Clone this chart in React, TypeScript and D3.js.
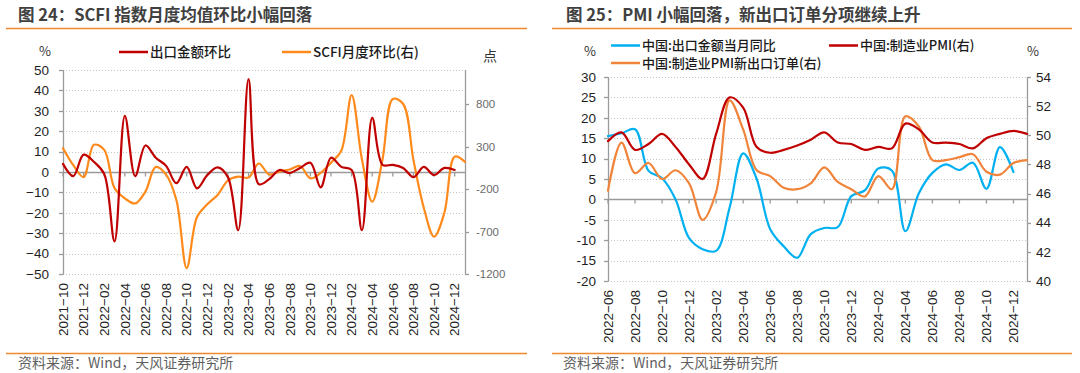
import * as d3 from 'd3';
import React, { useEffect, useRef } from 'react';

// ---------- 图24：SCFI 指数月度均值环比 ----------
const scfiMonths = [
  '2021-10', '2021-11', '2021-12',
  '2022-01', '2022-02', '2022-03', '2022-04', '2022-05', '2022-06',
  '2022-07', '2022-08', '2022-09', '2022-10', '2022-11', '2022-12',
  '2023-01', '2023-02', '2023-03', '2023-04', '2023-05', '2023-06',
  '2023-07', '2023-08', '2023-09', '2023-10', '2023-11', '2023-12',
  '2024-01', '2024-02', '2024-03', '2024-04', '2024-05', '2024-06',
  '2024-07', '2024-08', '2024-09', '2024-10', '2024-11', '2024-12',
  '2025-01',
];
const scfiTickMonths = [
  '2021-10', '2021-12', '2022-02', '2022-04', '2022-06', '2022-08', '2022-10',
  '2022-12', '2023-02', '2023-04', '2023-06', '2023-08', '2023-10', '2023-12',
  '2024-02', '2024-04', '2024-06', '2024-08', '2024-10', '2024-12',
];
// 出口金额环比 (%), left axis
const exportMoM = [
  4, -2, 8.5, 5, -1, -34, 27.5, -2, 13, 7, 3, -5.5, 2.5, -8, -1.5, 2.3, -2.5,
  -28.5, 45.5, -6, -3.5, 1, -0.5, 2, 4.5, -7.5, 7, 2.5, 1, -28.5, 26.5, 3.5,
  3.5, 2, -2.5, 2.5, -1.5, 2, 1,
];
// SCFI 月度环比 (点), right axis
const scfiMoM = [
  280, 80, -60, 320, 260, -190, -310, -370, -230, 60, -30, -330, -1130, -530,
  -380, -270, -100, -55, -65, 100, -30, 5, 30, 70, -75, -10, 110, 250, 905,
  150, -350, 150, 860, 800, 140, -420, -760, -480, 180, 120,
];
const scfiLeftTicks = [50, 40, 30, 20, 10, 0, -10, -20, -30, -40, -50];
const scfiRightTicks = [800, 300, -200, -700, -1200];

// ---------- 图25：PMI 与出口 ----------
const pmiMonths = [
  '2022-06', '2022-07', '2022-08', '2022-09', '2022-10', '2022-11', '2022-12',
  '2023-01', '2023-02', '2023-03', '2023-04', '2023-05', '2023-06',
  '2023-07', '2023-08', '2023-09', '2023-10', '2023-11', '2023-12',
  '2024-01', '2024-02', '2024-03', '2024-04', '2024-05', '2024-06',
  '2024-07', '2024-08', '2024-09', '2024-10', '2024-11', '2024-12',
  '2025-01',
];
const pmiTickMonths = [
  '2022-06', '2022-08', '2022-10', '2022-12', '2023-02', '2023-04', '2023-06',
  '2023-08', '2023-10', '2023-12', '2024-02', '2024-04', '2024-06', '2024-08',
  '2024-10', '2024-12',
];
// 中国:出口金额当月同比 (%), left axis
const exportYoY = [
  15.5, 16.2, 17.2, 7, 5.2, 0, -9.5, -12.2, -12.6, -2, 11.3, 5, -7.3, -11.5,
  -14.3, -8.5, -7, -6.8, 0.8, 2.2, 7.6, 7.1, -7.8, 1.5, 6.5, 8.6, 7.2, 9, 2.6,
  12.8, 6.7,
];
// 中国:制造业PMI (右)
const pmi = [
  49.6, 50.2, 49.0, 49.4, 50.1, 49.2, 48.0, 47.0, 50.1, 52.6, 51.9, 49.2, 48.8,
  49.0, 49.3, 49.7, 50.2, 49.5, 49.4, 49.0, 49.2, 49.1, 50.8, 50.4, 49.5, 49.5,
  49.4, 49.1, 49.8, 50.1, 50.3, 50.1,
];
// 中国:制造业PMI新出口订单 (右)
const pmiNewExport = [
  46.2, 49.5, 47.4, 48.1, 47.0, 47.6, 46.7, 44.2, 46.1, 52.4, 50.4, 47.6, 47.2,
  46.4, 46.3, 46.7, 47.8, 46.8, 46.3, 45.8, 47.2, 46.3, 51.3, 50.6, 48.3, 48.3,
  48.5, 48.7, 47.5, 47.3, 48.1, 48.3,
];
const pmiLeftTicks = [30, 25, 20, 15, 10, 5, 0, -5, -10, -15, -20];
const pmiRightTicks = [54, 52, 50, 48, 46, 44, 42, 40];

const FONT_CN = '"Noto Sans CJK SC", "Noto Sans", sans-serif';
const FONT_NUM = '"Liberation Sans", Arial, sans-serif';
const RULE_COLOR = '#F0892B';

interface LineSeries {
  values: number[];
  color: string;
  axis: 'left' | 'right';
}

interface LegendItem {
  name: string;
  color: string;
  x: number;
  y: number;
}

interface PanelConfig {
  title: string;
  titleX: number;
  ruleX: [number, number];
  sourceX: number;
  plot: { left: number; right: number; top: number; bottom: number };
  months: string[];
  tickMonths: string[];
  labelTop: number;
  leftDomain: [number, number];
  rightDomain: [number, number];
  leftTicks: number[];
  rightTicks: number[];
  leftFormat: (v: number) => string;
  leftLabelX: number;
  rightLabelX: number;
  leftLabelStyle: { size: number; color: string };
  rightLabelStyle: { size: number; color: string };
  series: LineSeries[];
  legend: LegendItem[];
  legendSize: number;
  units: { text: string; x: number; y: number; size: number }[];
}

type Svg = d3.Selection<SVGSVGElement, unknown, null, undefined>;

function drawPanel(svg: Svg, cfg: PanelConfig) {
  const g = svg.append('g');
  const { plot } = cfg;

  const x = d3.scalePoint<string>().domain(cfg.months).range([plot.left, plot.right]);
  const yL = d3.scaleLinear().domain(cfg.leftDomain).range([plot.bottom, plot.top]);
  const yR = d3.scaleLinear().domain(cfg.rightDomain).range([plot.bottom, plot.top]);

  // title + rules + source
  g.append('text')
    .attr('x', cfg.titleX)
    .attr('y', 21)
    .style('font-family', FONT_CN)
    .style('font-size', '16.5px')
    .style('font-weight', 700)
    .style('fill', '#404040')
    .text(cfg.title);

  [28.5, 353.5].forEach(yy => {
    g.append('line')
      .attr('x1', cfg.ruleX[0])
      .attr('x2', cfg.ruleX[1])
      .attr('y1', yy)
      .attr('y2', yy)
      .attr('stroke', RULE_COLOR)
      .attr('stroke-width', 1.5);
  });

  g.append('text')
    .attr('x', cfg.sourceX)
    .attr('y', 368)
    .style('font-family', FONT_CN)
    .style('font-size', '14px')
    .style('fill', '#5f5f5f')
    .text('资料来源：Wind，天风证券研究所');

  // dotted grid
  g.append('g')
    .selectAll('line')
    .data(cfg.leftTicks)
    .join('line')
    .attr('x1', plot.left)
    .attr('x2', plot.right)
    .attr('y1', d => Math.round(yL(d)) + 0.5)
    .attr('y2', d => Math.round(yL(d)) + 0.5)
    .attr('stroke', '#c4c4c4')
    .attr('stroke-width', 1)
    .attr('stroke-dasharray', '1,2');

  const axisColor = '#9a9a9a';

  // left axis
  g.append('line')
    .attr('x1', plot.left + 0.5).attr('x2', plot.left + 0.5)
    .attr('y1', plot.top).attr('y2', plot.bottom + 0.5)
    .attr('stroke', axisColor).attr('stroke-width', 1.3);
  g.append('g')
    .selectAll('line')
    .data(cfg.leftTicks)
    .join('line')
    .attr('x1', plot.left - 4).attr('x2', plot.left)
    .attr('y1', d => Math.round(yL(d)) + 0.5)
    .attr('y2', d => Math.round(yL(d)) + 0.5)
    .attr('stroke', axisColor).attr('stroke-width', 1.3);
  g.append('g')
    .selectAll('text')
    .data(cfg.leftTicks)
    .join('text')
    .attr('x', cfg.leftLabelX)
    .attr('y', d => yL(d))
    .attr('dy', '0.35em')
    .attr('text-anchor', 'end')
    .style('font-family', FONT_NUM)
    .style('font-size', `${cfg.leftLabelStyle.size}px`)
    .style('fill', cfg.leftLabelStyle.color)
    .text(d => cfg.leftFormat(d));

  // right axis
  g.append('line')
    .attr('x1', plot.right + 0.5).attr('x2', plot.right + 0.5)
    .attr('y1', plot.top).attr('y2', plot.bottom + 0.5)
    .attr('stroke', axisColor).attr('stroke-width', 1.3);
  g.append('g')
    .selectAll('line')
    .data(cfg.rightTicks)
    .join('line')
    .attr('x1', plot.right).attr('x2', plot.right + 4)
    .attr('y1', d => Math.round(yR(d)) + 0.5)
    .attr('y2', d => Math.round(yR(d)) + 0.5)
    .attr('stroke', axisColor).attr('stroke-width', 1.3);
  g.append('g')
    .selectAll('text')
    .data(cfg.rightTicks)
    .join('text')
    .attr('x', cfg.rightLabelX)
    .attr('y', d => yR(d))
    .attr('dy', '0.35em')
    .style('font-family', FONT_NUM)
    .style('font-size', `${cfg.rightLabelStyle.size}px`)
    .style('fill', cfg.rightLabelStyle.color)
    .text(d => String(d));

  // category axis along zero
  const y0 = Math.round(yL(0)) + 0.5;
  g.append('line')
    .attr('x1', plot.left).attr('x2', plot.right)
    .attr('y1', y0).attr('y2', y0)
    .attr('stroke', axisColor).attr('stroke-width', 1.4);
  g.append('g')
    .selectAll('line')
    .data(cfg.tickMonths)
    .join('line')
    .attr('x1', d => x(d)!).attr('x2', d => x(d)!)
    .attr('y1', y0).attr('y2', y0 + 4)
    .attr('stroke', axisColor).attr('stroke-width', 1.3);

  g.append('g')
    .selectAll('text')
    .data(cfg.tickMonths)
    .join('text')
    .attr('transform', d => `translate(${x(d)},${cfg.labelTop}) rotate(-90)`)
    .attr('dy', '0.35em')
    .attr('text-anchor', 'end')
    .style('font-family', FONT_NUM)
    .style('font-size', '13.5px')
    .style('fill', '#1f1f1f')
    .text(d => d.replace('-', '\u2212'));

  // series
  cfg.series.forEach(s => {
    const y = s.axis === 'left' ? yL : yR;
    const line = d3.line<number>()
      .x((_, i) => x(cfg.months[i])!)
      .y(d => y(d))
      .curve(d3.curveCatmullRom.alpha(0.5));
    g.append('path')
      .attr('d', line(s.values))
      .attr('fill', 'none')
      .attr('stroke', s.color)
      .attr('stroke-width', 2.2)
      .attr('stroke-linejoin', 'round')
      .attr('stroke-linecap', 'round');
  });

  // legend
  cfg.legend.forEach(item => {
    g.append('line')
      .attr('x1', item.x).attr('x2', item.x + 29)
      .attr('y1', item.y).attr('y2', item.y)
      .attr('stroke', item.color)
      .attr('stroke-width', 2.5);
    g.append('text')
      .attr('x', item.x + 31)
      .attr('y', item.y)
      .attr('dy', '0.36em')
      .style('font-family', FONT_CN)
      .style('font-size', `${cfg.legendSize}px`)
      .style('font-weight', 500)
      .style('fill', '#1a1a1a')
      .text(item.name);
  });

  cfg.units.forEach(u => {
    g.append('text')
      .attr('x', u.x)
      .attr('y', u.y)
      .attr('dy', '0.35em')
      .attr('text-anchor', 'middle')
      .style('font-family', FONT_CN)
      .style('font-size', `${u.size}px`)
      .style('fill', '#333')
      .text(u.text);
  });
}

const App: React.FC = () => {
  const svgRef = useRef<SVGSVGElement>(null);

  useEffect(() => {
    if (!svgRef.current) return;
    const svg = d3.select(svgRef.current);
    svg.selectAll('*').remove();

    drawPanel(svg, {
      title: '图 24：SCFI 指数月度均值环比小幅回落',
      titleX: 18,
      ruleX: [6, 527],
      sourceX: 18,
      plot: { left: 63, right: 465, top: 70, bottom: 274 },
      months: scfiMonths,
      tickMonths: scfiTickMonths,
      labelTop: 283,
      leftDomain: [-50, 50],
      rightDomain: [-1200, 1200],
      leftTicks: scfiLeftTicks,
      rightTicks: scfiRightTicks,
      leftFormat: d3.format('d'),
      leftLabelX: 49,
      rightLabelX: 476,
      leftLabelStyle: { size: 13.5, color: '#1f1f1f' },
      rightLabelStyle: { size: 11.5, color: '#6b6b6b' },
      series: [
        { values: scfiMoM, color: '#FF8A1C', axis: 'right' },
        { values: exportMoM, color: '#C00000', axis: 'left' },
      ],
      legend: [
        { name: '出口金额环比', color: '#C00000', x: 119, y: 52 },
        { name: 'SCFI月度环比(右)', color: '#FF8A1C', x: 282, y: 52 },
      ],
      legendSize: 13.5,
      units: [
        { text: '%', x: 45, y: 51, size: 13 },
        { text: '点', x: 490, y: 56, size: 14 },
      ],
    });

    drawPanel(svg, {
      title: '图 25：PMI 小幅回落，新出口订单分项继续上升',
      titleX: 566,
      ruleX: [552, 1072],
      sourceX: 563,
      plot: { left: 608, right: 1027, top: 77, bottom: 281 },
      months: pmiMonths,
      tickMonths: pmiTickMonths,
      labelTop: 290,
      leftDomain: [-20, 30],
      rightDomain: [40, 54],
      leftTicks: pmiLeftTicks,
      rightTicks: pmiRightTicks,
      leftFormat: d => String(d),
      leftLabelX: 596,
      rightLabelX: 1036,
      leftLabelStyle: { size: 13.5, color: '#1f1f1f' },
      rightLabelStyle: { size: 13.5, color: '#1f1f1f' },
      series: [
        { values: exportYoY, color: '#00B0F0', axis: 'left' },
        { values: pmiNewExport, color: '#F0843A', axis: 'right' },
        { values: pmi, color: '#C00000', axis: 'right' },
      ],
      legend: [
        { name: '中国:出口金额当月同比', color: '#00B0F0', x: 611, y: 45.5 },
        { name: '中国:制造业PMI(右)', color: '#C00000', x: 829, y: 45.5 },
        { name: '中国:制造业PMI新出口订单(右)', color: '#F0843A', x: 611, y: 63 },
      ],
      legendSize: 13,
      units: [
        { text: '%', x: 590, y: 51, size: 13 },
        { text: '%', x: 1033, y: 51, size: 13 },
      ],
    });
  }, []);

  return (
    <svg
      ref={svgRef}
      width={1080}
      height={373}
      style={{ position: 'absolute', left: 0, top: 0, background: '#fff' }}
    />
  );
};

export default App;
